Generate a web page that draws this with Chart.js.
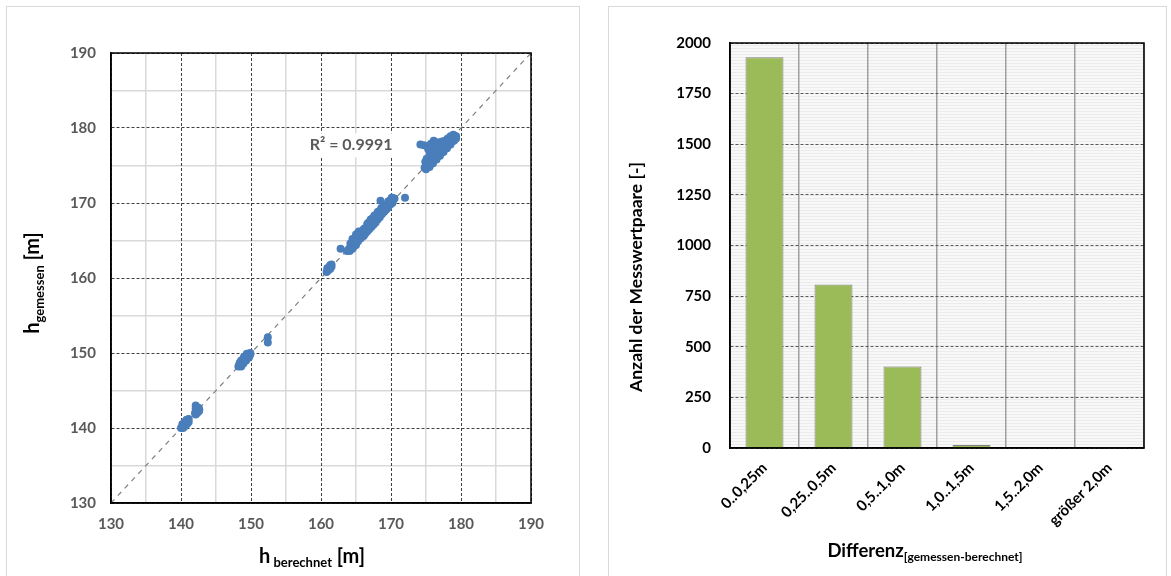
<!DOCTYPE html>
<html>
<head>
<meta charset="utf-8">
<script src="https://cdn.jsdelivr.net/npm/chart.js"></script>
<style>
  body { margin: 0; background: #fff; width: 1171px; height: 576px; overflow: hidden; position: relative; }
  .frame { position: absolute; border: 1px solid #d9d9d9; box-sizing: border-box; }
  canvas { position: absolute; top: 0; }
</style>
</head>
<body>
<div class="frame" style="left:6px; top:6px; width:574px; height:590px;"></div>
<div class="frame" style="left:608px; top:6px; width:559px; height:590px;"></div>
<canvas id="scatter" width="590" height="576" style="left:0; width:590px; height:576px;"></canvas>
<canvas id="bars" width="571" height="576" style="left:600px; width:571px; height:576px;"></canvas>
<script>
// --- data: left chart (h berechnet vs h gemessen) ---
const hBerechnet = [
  140.0,140.2,140.4,140.6,140.8,141.0,141.1,140.3,140.6,140.9,
  140.2,140.5,140.8,140.5,140.8,141.1,
  142.0,142.2,142.4,142.6,142.1,142.3,142.5,142.1,142.1,
  142.3,142.5,142.6,
  148.3,148.5,148.7,148.9,149.1,149.3,149.5,149.7,149.9,
  148.5,148.8,149.1,149.4,149.7,
  148.4,148.7,149.0,149.3,149.6,
  148.2,148.6,149.0,149.4,148.9,149.3,149.7,149.9,148.6,
  152.4,152.4,
  160.8,161.0,161.2,161.4,161.5,161.0,161.3,
  160.9,161.3,161.5,
  162.8,
  163.7,164.0,164.3,164.6,164.9,165.2,165.5,165.8,166.1,166.4,166.7,167.0,167.3,167.6,167.9,168.2,168.5,168.8,169.1,169.4,169.7,170.0,170.3,170.5,
  164.2,164.8,165.2,165.6,166.2,166.8,167.3,167.8,168.3,168.7,169.3,169.8,170.2,
  164.1,164.7,165.3,166.0,166.6,167.2,167.8,168.4,169.0,169.6,170.2,
  164.5,165.0,165.4,166.0,166.6,167.1,167.6,168.1,168.6,169.0,169.6,170.1,
  164.5,165.0,165.7,166.3,166.9,167.5,168.1,168.7,169.3,169.9,
  165.9,166.3,165.8,166.1,
  168.5,172.0,
  174.8,175.1,175.4,175.7,176.0,176.3,176.6,176.9,177.2,177.5,177.8,178.1,178.4,178.7,179.0,179.3,
  175.0,175.4,175.8,176.2,176.6,177.0,177.4,177.8,178.2,178.6,179.0,
  175.2,175.7,176.2,176.7,177.2,177.7,178.2,178.7,
  175.1,175.5,176.0,176.4,176.9,177.3,177.7,178.1,178.5,178.9,
  175.5,176.0,176.5,177.0,177.5,178.0,178.5,179.0,179.3,
  175.5,175.9,176.3,176.7,177.1,176.1,175.8,176.5,
  175.3,175.7,176.9,177.3,174.9,175.0,
  174.2,174.7
];
const hGemessen = [
  140.0,140.2,140.4,140.6,140.8,141.0,141.2,140.0,140.4,140.6,
  140.5,140.8,141.1,140.2,140.5,140.8,
  142.0,142.2,142.4,142.5,141.8,142.0,142.2,143.0,142.6,
  142.5,142.7,142.3,
  148.4,148.6,148.8,149.0,149.2,149.4,149.6,149.8,150.0,
  148.3,148.6,148.9,149.2,149.5,
  148.7,149.0,149.3,149.6,149.9,
  148.2,149.0,149.5,149.9,148.6,149.0,149.4,149.8,148.2,
  152.1,151.4,
  160.8,161.0,161.3,161.6,161.8,161.3,161.2,
  161.3,161.7,161.5,
  163.9,
  163.6,163.9,164.3,164.6,165.0,165.3,165.6,165.9,166.2,166.5,166.8,167.1,167.4,167.7,168.0,168.3,168.6,168.9,169.2,169.5,169.8,170.1,170.4,170.6,
  164.6,165.3,165.9,166.1,166.6,167.4,167.9,168.4,168.9,169.2,169.7,170.3,170.7,
  163.6,164.2,164.9,165.7,166.2,166.8,167.4,168.1,168.8,169.4,170.0,
  165.2,165.8,166.2,166.4,167.2,167.8,168.3,168.8,169.3,169.7,170.2,170.7,
  163.9,164.4,165.3,165.9,166.5,167.1,167.8,168.5,169.1,169.8,
  166.1,166.0,165.8,165.6,
  170.3,170.7,
  174.7,175.0,175.3,175.6,175.9,176.2,176.5,176.8,177.1,177.4,177.7,178.0,178.3,178.5,178.8,178.9,
  175.4,175.8,176.3,176.7,177.1,177.5,177.8,178.2,178.5,178.8,179.0,
  174.8,175.2,175.8,176.2,176.7,177.2,177.7,178.2,
  175.9,176.3,176.9,177.3,177.6,178.0,178.3,178.6,178.9,179.1,
  174.8,175.3,175.8,176.3,176.8,177.3,177.8,178.3,178.6,
  176.9,177.2,177.4,177.6,177.8,178.3,177.6,177.9,
  177.2,177.9,178.1,178.2,175.5,174.5,
  177.8,177.7
];
const diagonal = [130, 190];
const r2Text = 'R² = 0.9991';

// --- data: right chart ---
const klassen = ['0..0,25m', '0,25..0,5m', '0,5..1,0m', '1,0..1,5m', '1,5..2,0m', 'größer 2,0m'];
const anzahl = [1930, 808, 402, 15, 3, 5];

const FONT = 'Lato, "Open Sans", sans-serif';

// draws text made of parts (normal + subscript), centered on (cx, cy); rotated if vertical
function drawParts(ctx, parts, cx, cy, vertical) {
  ctx.save();
  let total = 0;
  parts.forEach(p => { ctx.font = 'bold ' + p.size + 'px ' + FONT; p.w = ctx.measureText(p.t).width; total += p.w; });
  ctx.translate(cx, cy);
  if (vertical) ctx.rotate(-Math.PI / 2);
  let x = -total / 2;
  ctx.textBaseline = 'alphabetic';
  ctx.textAlign = 'left';
  parts.forEach(p => {
    ctx.font = 'bold ' + p.size + 'px ' + FONT;
    ctx.fillStyle = p.color || '#000';
    ctx.fillText(p.t, x, p.dy || 0);
    x += p.w;
  });
  ctx.restore();
}

// ---------------- left chart ----------------
const tickFontL = { family: FONT, size: 15, weight: 'bold' };

const scatterDeko = {
  id: 'scatterDeko',
  afterDatasetsDraw(chart) {
    const { ctx, chartArea: a, scales } = chart;
    // R² label with white box
    ctx.save();
    ctx.font = 'bold 16px ' + FONT;
    const px = scales.x.getPixelForValue(164.3);
    const py = scales.y.getPixelForValue(177.7);
    const w = ctx.measureText(r2Text).width;
    ctx.fillStyle = '#fff';
    ctx.fillRect(px - w / 2 - 4, py - 12, w + 8, 24);
    ctx.fillStyle = '#595959';
    ctx.textAlign = 'center';
    ctx.textBaseline = 'middle';
    ctx.fillText(r2Text, px, py);
    // frame
    ctx.strokeStyle = '#000';
    ctx.lineWidth = 1.5;
    ctx.strokeRect(a.left, a.top, a.right - a.left, a.bottom - a.top);
    ctx.restore();
  },
  afterDraw(chart) {
    const ctx = chart.ctx;
    drawParts(ctx, [
      { t: 'h', size: 20 }, { t: 'gemessen', size: 13, dy: 5 }, { t: ' [m]', size: 20 }
    ], 39, 283, true);
    drawParts(ctx, [
      { t: 'h', size: 20 }, { t: ' berechnet', size: 13, dy: 4 }, { t: ' [m]', size: 20 }
    ], 312, 563, false);
  }
};

new Chart(document.getElementById('scatter'), {
  type: 'scatter',
  data: {
    datasets: [
      {
        type: 'line',
        data: diagonal.map(v => ({ x: v, y: v })),
        borderColor: '#7f7f7f',
        borderWidth: 1.2,
        borderDash: [5, 5],
        pointRadius: 0,
        order: 2
      },
      {
        data: hBerechnet.map((v, i) => ({ x: v, y: hGemessen[i] })),
        backgroundColor: '#4a7ebb',
        borderWidth: 0,
        pointRadius: 4,
        order: 1
      }
    ]
  },
  options: {
    responsive: false,
    animation: false,
    layout: { padding: { left: 51, right: 59, top: 53, bottom: 23 } },
    plugins: { legend: { display: false }, tooltip: { enabled: false } },
    scales: {
      xMinor: {
        type: 'linear', position: 'bottom', min: 130, max: 190,
        ticks: { display: false, stepSize: 5 },
        grid: { drawTicks: false, color: c => (c.tick && c.tick.value % 10 === 0) ? 'rgba(0,0,0,0)' : '#d9d9d9', lineWidth: 1.5 },
        border: { display: false },
        afterFit: s => { s.height = 0; }
      },
      yMinor: {
        type: 'linear', position: 'left', min: 130, max: 190,
        ticks: { display: false, stepSize: 5 },
        grid: { drawTicks: false, color: c => (c.tick && c.tick.value % 10 === 0) ? 'rgba(0,0,0,0)' : '#d9d9d9', lineWidth: 1.5 },
        border: { display: false },
        afterFit: s => { s.width = 0; }
      },
      x: {
        type: 'linear', position: 'bottom', min: 130, max: 190,
        ticks: { stepSize: 10, padding: 12, color: '#595959', font: tickFontL, maxRotation: 0 },
        grid: { drawTicks: false, color: '#404040', lineWidth: 1 },
        border: { color: '#000', width: 1.5, dash: [3, 2] },
        afterFit: s => { s.height = 50; }
      },
      y: {
        type: 'linear', position: 'left', min: 130, max: 190,
        ticks: { stepSize: 10, padding: 15, color: '#595959', font: tickFontL },
        grid: { drawTicks: false, color: '#404040', lineWidth: 1 },
        border: { color: '#000', width: 1.5, dash: [3, 2] },
        afterFit: s => { s.width = 60; }
      }
    }
  },
  plugins: [scatterDeko]
});

// ---------------- right chart ----------------
const tickFontR = { family: FONT, size: 15, weight: 'bold' };

function hatch(ctx) {
  const c = document.createElement('canvas');
  c.width = 4; c.height = 3;
  const g = c.getContext('2d');
  g.fillStyle = '#f8f8f8';
  g.fillRect(0, 0, 4, 3);
  g.fillStyle = '#ebebeb';
  g.fillRect(0, 0, 4, 1);
  return ctx.createPattern(c, 'repeat');
}

const barDeko = {
  id: 'barDeko',
  beforeDraw(chart) {
    const { ctx, chartArea: a } = chart;
    ctx.save();
    ctx.fillStyle = hatch(ctx);
    ctx.fillRect(a.left, a.top, a.right - a.left, a.bottom - a.top);
    ctx.restore();
  },
  afterDatasetsDraw(chart) {
    const { ctx, chartArea: a } = chart;
    ctx.save();
    ctx.strokeStyle = '#000';
    ctx.lineWidth = 1.5;
    ctx.strokeRect(a.left, a.top, a.right - a.left, a.bottom - a.top);
    ctx.restore();
  },
  afterDraw(chart) {
    const ctx = chart.ctx;
    drawParts(ctx, [{ t: 'Anzahl der Messwertpaare [-]', size: 17.5 }], 42, 277, true);
    drawParts(ctx, [
      { t: 'Differenz', size: 18.5 }, { t: '[gemessen-berechnet]', size: 12, dy: 4 }
    ], 325, 557, false);
  }
};

new Chart(document.getElementById('bars'), {
  type: 'bar',
  data: {
    labels: klassen,
    datasets: [{
      data: anzahl,
      backgroundColor: '#9bbb59',
      borderColor: '#808080',
      borderWidth: 1,
      categoryPercentage: 1,
      barPercentage: 0.55
    }]
  },
  options: {
    responsive: false,
    animation: false,
    layout: { padding: { left: 50, right: 27, top: 43, bottom: 48 } },
    plugins: { legend: { display: false }, tooltip: { enabled: false } },
    scales: {
      x: {
        ticks: { color: '#000', font: { family: FONT, size: 15, weight: 'bold' }, minRotation: 45, maxRotation: 45, padding: 11, autoSkip: false },
        grid: { drawTicks: false, color: '#a0a0a0', lineWidth: 1.5 },
        border: { color: '#000', width: 1.5 },
        afterFit: s => { s.height = 80; }
      },
      y: {
        min: 0, max: 2000,
        ticks: { stepSize: 250, padding: 19, color: '#000', font: tickFontR, callback: v => String(v) },
        grid: { drawTicks: false, color: '#595959', lineWidth: 1 },
        border: { color: '#000', width: 1.5, dash: [3, 2] },
        afterFit: s => { s.width = 80; }
      }
    }
  },
  plugins: [barDeko]
});
</script>
</body>
</html>
